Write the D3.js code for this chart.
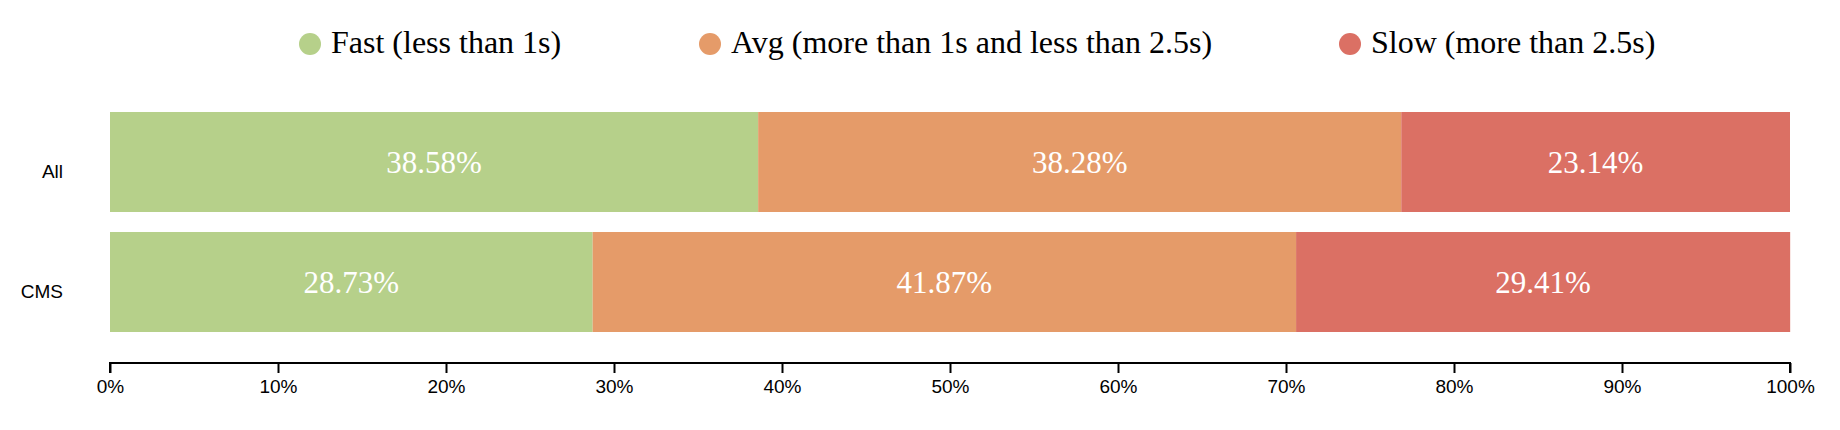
<!DOCTYPE html>
<html>
<head>
<meta charset="utf-8">
<script src="https://cdn.jsdelivr.net/npm/d3@7"></script>
<style>
  body { margin: 0; background: #fff; }
  .axis text { font-family: "Liberation Sans", Arial, Helvetica, sans-serif; font-size: 19px; fill: #000; }
  .axis path, .axis line { stroke: #000; stroke-width: 2px; }
  .legend text { font-family: "Liberation Serif", "Times New Roman", serif; font-size: 32px; fill: #000; }
  .bar-label { font-family: "Liberation Serif", "Times New Roman", serif; font-size: 31px; fill: #fff; }
</style>
</head>
<body>
<div id="vis"></div>
<script>
// data
const CATEGORIES = ["All", "CMS"];
const SERIES = ["Fast (less than 1s)", "Avg (more than 1s and less than 2.5s)", "Slow (more than 2.5s)"];
const FAST = [38.58, 28.73];
const AVG = [38.28, 41.87];
const SLOW = [23.14, 29.41];
const X_TICKS = [0, 10, 20, 30, 40, 50, 60, 70, 80, 90, 100];

const COLORS = ["#b6d08a", "#e59b69", "#db7064"];

// frame dimensions
const FRAME_WIDTH = 1840;
const FRAME_HEIGHT = 430;
const PLOT = {left: 110, right: 1790, top: 112, bottom: 332};
const AXIS_Y = 363;
const LEGEND_X = [310, 710, 1350];
const LEGEND_Y = 44;

const FRAME = d3.select("#vis")
                .append("svg")
                  .attr("width", FRAME_WIDTH)
                  .attr("height", FRAME_HEIGHT);

const X_SCALE = d3.scaleLinear()
                  .domain([0, 100])
                  .range([PLOT.left, PLOT.right]);

const Y_SCALE = d3.scaleBand()
                  .domain(CATEGORIES)
                  .range([PLOT.top, PLOT.bottom])
                  .paddingInner(1 / 6)
                  .paddingOuter(0);

// build stacked rows from the series arrays
const rows = CATEGORIES.map((c, i) => ({cat: c, fast: FAST[i], avg: AVG[i], slow: SLOW[i]}));
const stacked = d3.stack().keys(["fast", "avg", "slow"])(rows);

stacked.forEach((layer, k) => {
  const g = FRAME.append("g");

  g.selectAll("rect")
    .data(layer)
    .enter()
    .append("rect")
      .attr("x", (d) => X_SCALE(d[0]))
      .attr("y", (d) => Y_SCALE(d.data.cat))
      .attr("width", (d) => X_SCALE(d[1]) - X_SCALE(d[0]))
      .attr("height", Y_SCALE.bandwidth())
      .attr("fill", COLORS[k]);

  g.selectAll("text")
    .data(layer)
    .enter()
    .append("text")
      .attr("class", "bar-label")
      .attr("x", (d) => (X_SCALE(d[0]) + X_SCALE(d[1])) / 2)
      .attr("y", (d) => Y_SCALE(d.data.cat) + Y_SCALE.bandwidth() / 2)
      .attr("dy", "0.34em")
      .attr("text-anchor", "middle")
      .text((d) => (d[1] - d[0]).toFixed(2) + "%");
});

// x axis
FRAME.append("g")
  .attr("class", "axis")
  .attr("transform", "translate(0," + AXIS_Y + ")")
  .call(d3.axisBottom(X_SCALE).tickValues(X_TICKS).tickSize(10).tickPadding(7).tickFormat((d) => d + "%"))
  .call((g) => g.select(".domain").attr("d", "M" + PLOT.left + ",10V0H" + PLOT.right + "V10"));

// y axis, labels only
FRAME.append("g")
  .attr("class", "axis")
  .attr("transform", "translate(" + PLOT.left + ",0)")
  .call(d3.axisLeft(Y_SCALE).tickSize(0).tickPadding(47))
  .call((g) => g.select(".domain").remove())
  .selectAll("text")
    .attr("dy", "0.85em");

// legend
const legend = FRAME.append("g").attr("class", "legend");

SERIES.forEach((name, i) => {
  legend.append("circle")
    .attr("cx", LEGEND_X[i])
    .attr("cy", LEGEND_Y)
    .attr("r", 11)
    .attr("fill", COLORS[i]);

  legend.append("text")
    .attr("x", LEGEND_X[i] + 21)
    .attr("y", LEGEND_Y + 8.5)
    .text(name);
});
</script>
</body>
</html>
